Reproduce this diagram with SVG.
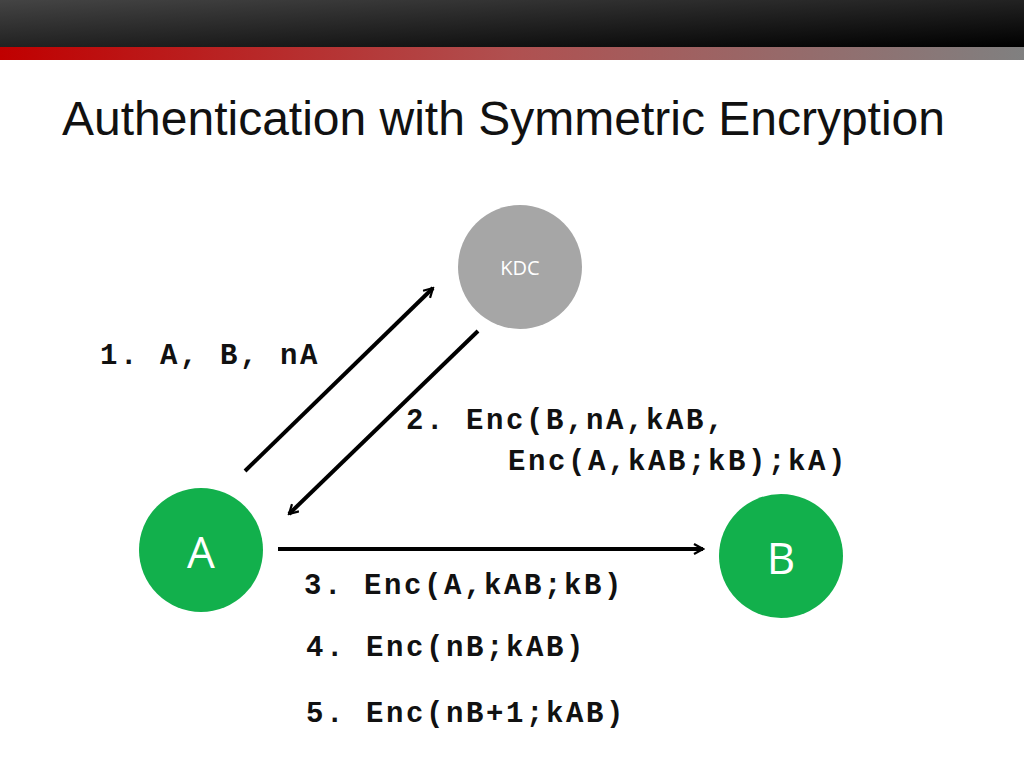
<svg xmlns="http://www.w3.org/2000/svg" width="1024" height="768" viewBox="0 0 1024 768">
<defs>
<linearGradient id="top" x1="0" y1="0" x2="1" y2="1"><stop offset="0" stop-color="#444"/><stop offset="1" stop-color="#000"/></linearGradient>
<linearGradient id="red" x1="0" y1="0" x2="1" y2="0"><stop offset="0" stop-color="#c00000"/><stop offset="0.5" stop-color="#b05050"/><stop offset="1" stop-color="#808080"/></linearGradient>
<marker id="ah" viewBox="0 0 12 12" refX="10" refY="6" markerWidth="12" markerHeight="12" markerUnits="userSpaceOnUse" orient="auto"><path d="M1,1 L10,6 L1,11" fill="none" stroke="#000" stroke-width="2.2"/></marker>
<style>
.lbl{font-family:"Liberation Mono",monospace;font-weight:bold;font-size:29px;letter-spacing:2.6px;fill:#111}
.c{stroke:#000;stroke-width:4;fill:none;marker-end:url(#ah)}
</style>
</defs>
<rect x="0" y="0" width="1024" height="47" fill="url(#top)"/>
<rect x="0" y="47" width="1024" height="13" fill="url(#red)"/>
<text x="62" y="135" font-family="Liberation Sans, sans-serif" font-size="48" fill="#111" textLength="883" lengthAdjust="spacingAndGlyphs">Authentication with Symmetric Encryption</text>
<g id="kdc"><circle cx="520" cy="267" r="62" fill="#a6a6a6"/><text x="520" y="275" text-anchor="middle" font-family="Open Sans, sans-serif" font-size="20" fill="#fff">KDC</text></g>
<g id="a"><circle cx="201" cy="550" r="62" fill="#12b04c"/><text x="201" y="568" text-anchor="middle" font-family="Open Sans, sans-serif" font-size="44" fill="#fff">A</text></g>
<g id="b"><circle cx="781" cy="556" r="62" fill="#12b04c"/><text x="781" y="574" text-anchor="middle" font-family="Open Sans, sans-serif" font-size="44" fill="#fff">B</text></g>
<g id="connectors">
<line class="c" x1="245" y1="471" x2="433" y2="288"/>
<line class="c" x1="478" y1="331" x2="289" y2="514"/>
<line class="c" x1="278" y1="549" x2="703" y2="549"/>
</g>
<g id="labels">
<text class="lbl" x="100" y="364">1. A, B, nA</text>
<text class="lbl" x="406" y="429">2. Enc(B,nA,kAB,</text>
<text class="lbl" x="508" y="470">Enc(A,kAB;kB);kA)</text>
<text class="lbl" x="304" y="594">3. Enc(A,kAB;kB)</text>
<text class="lbl" x="306" y="656">4. Enc(nB;kAB)</text>
<text class="lbl" x="306" y="722">5. Enc(nB+1;kAB)</text>
</g>
</svg>
